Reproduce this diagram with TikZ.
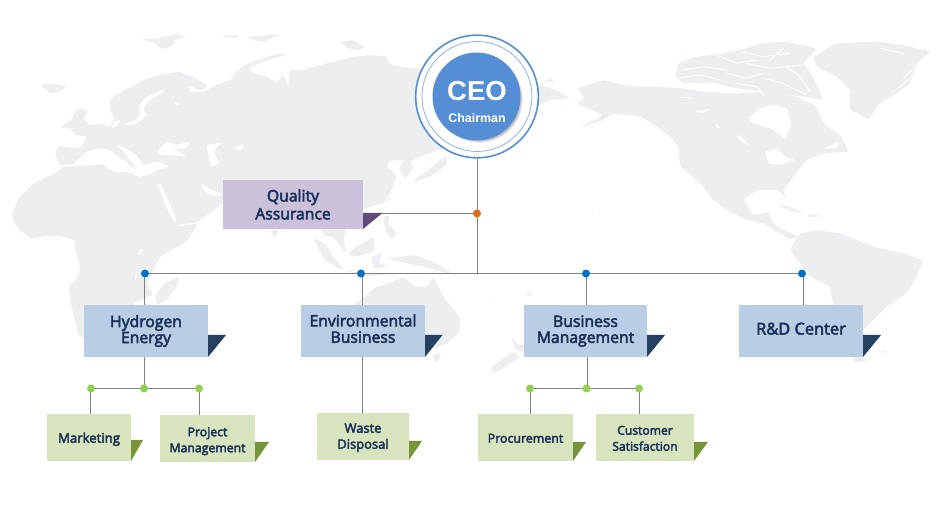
\documentclass[tikz,border=0pt]{standalone}
\usepackage{fontspec}
\newfontfamily\labelfont{Open Sans}[FakeBold=3.2]
\newfontfamily\arialfont{Liberation Sans}
\usetikzlibrary{shadows,fadings}
\definecolor{mapgrey}{HTML}{EDEEF0}
\definecolor{linegrey}{HTML}{808080}
\definecolor{ceoblue}{HTML}{558ED5}
\definecolor{ringblue}{HTML}{8DB3E2}
\definecolor{boxblue}{HTML}{B9CDE5}
\definecolor{flagblue}{HTML}{254061}
\definecolor{boxpurple}{HTML}{CCC1DA}
\definecolor{flagpurple}{HTML}{604A7B}
\definecolor{boxgreen}{HTML}{D7E4BD}
\definecolor{flaggreen}{HTML}{77933C}
\definecolor{dotorange}{HTML}{E46C0A}
\definecolor{dotblue}{HTML}{0070C0}
\definecolor{dotgreen}{HTML}{92D050}
\definecolor{labelnavy}{HTML}{1B3157}
\pgfdeclarelayer{maplayer}
\pgfdeclarelayer{linelayer}
\pgfsetlayers{maplayer,linelayer,main}
\newcommand{\smallsize}[1]{\labelfont\fontsize{#1}{12}\selectfont}
\newcommand{\lifted}[2]{\raisebox{#1}[\height][\depth]{\begin{tabular}{@{}c@{}}#2\end{tabular}}}
\tikzset{
  land/.style={fill=mapgrey,draw=none,rounded corners=1.2pt},
  sea/.style={fill=white,draw=none,rounded corners=1pt},
  channel/.style={draw=white,line width=0.7pt,line cap=round},
  conn/.style={draw=linegrey,line width=0.75pt},
  dotnode/.style={circle,inner sep=0pt,minimum size=6pt},
  midbox/.style={fill=boxblue,text=labelnavy,inner sep=0pt,align=center,minimum height=39pt,font=\labelfont\fontsize{11.8}{12}\selectfont},
  smallbox/.style={fill=boxgreen,text=labelnavy,inner sep=0pt,align=center,minimum height=35.25pt},
  flagblue/.style={fill=flagblue,draw=none},
  flaggreen/.style={fill=flaggreen,draw=none}
}
\begin{document}
\begin{tikzpicture}[x=0.75pt,y=-0.75pt]
\useasboundingbox (0,0) rectangle (946,505);
\begin{pgfonlayer}{maplayer}
\begin{scope}[shift={(0,20)},x=0.25pt,y=-0.25pt]
% Eurasia
\fill[land] (330,240)--(345,225)--(385,205)--(430,180)--(480,165)--(535,155)--(590,175)--(625,200)--(600,212)--(570,195)--(565,215)--(610,215)--(650,195)--(700,175)--(705,155)--(745,130)--(800,110)--(855,98)--(850,108)--(790,125)--(745,145)--(760,160)--(800,170)--(830,188)--(850,165)--(865,195)--(870,150)--(910,150)--(940,140)--(1000,125)--(1060,110)--(1110,105)--(1160,110)--(1172,135)--(1240,145)--(1300,150)--(1400,150)--(1500,170)--(1620,195)--(1680,215)--(1710,235)--(1650,240)--(1600,262)--(1500,280)--(1450,330)--(1400,360)--(1300,395)--(1260,410)--(1230,425)--(1240,445)--(1215,478)--(1195,445)--(1215,420)--(1170,422)--(1160,440)--(1190,465)--(1180,500)--(1150,550)--(1095,565)--(1060,600)--(1000,610)--(800,610)--(669,550)--(640,572)--(590,608)--(530,615)--(505,570)--(475,490)--(470,450)--(510,440)--(470,425)--(430,435)--(410,405)--(350,372)--(390,420)--(410,450)--(370,420)--(330,390)--(290,385)--(260,395)--(215,435)--(180,435)--(165,405)--(175,378)--(240,385)--(262,350)--(225,345)--(210,325)--(250,315)--(300,312)--(330,322)--(345,298)--(330,270)--cycle;
\fill[land] (960,620)--(1040,620)--(1030,660)--(1042,700)--(1020,680)--(1000,650)--(975,650)--cycle;
% Africa
\fill[land] (478,452)--(420,472)--(380,455)--(340,455)--(310,432)--(250,437)--(190,440)--(165,460)--(100,490)--(55,535)--(35,590)--(50,620)--(90,655)--(140,648)--(190,650)--(225,660)--(225,690)--(240,740)--(235,770)--(205,800)--(215,860)--(235,945)--(260,960)--(400,960)--(430,900)--(400,850)--(460,825)--(440,790)--(480,710)--(560,665)--(595,610)--(535,620)--(505,575)--(480,500)--cycle;
\fill[land] (540,770)--(530,800)--(500,840)--(470,855)--(465,830)--(490,790)--cycle;
% Australia and islands
\fill[land] (1060,855)--(1095,830)--(1130,800)--(1180,785)--(1210,770)--(1245,800)--(1285,800)--(1300,770)--(1330,830)--(1382,895)--(1375,940)--(1335,975)--(1275,990)--(1100,990)--cycle;
\fill[land] (1295,1005)--(1325,1000)--(1310,1030)--cycle;
\fill[land] (180,322)--(215,300)--(230,265)--(265,270)--(250,300)--(270,310)--(255,325)--(215,325)--cycle;
\fill[land] (120,195)--(160,190)--(200,200)--(180,215)--(150,220)--cycle;
\fill[land] (425,58)--(470,55)--(530,42)--(560,50)--(520,60)--(525,75)--(490,88)--(465,70)--cycle;
\fill[land] (660,48)--(720,45)--(710,55)--cycle;
\fill[land] (740,50)--(845,42)--(790,65)--(760,60)--cycle;
\fill[land] (1020,65)--(1060,60)--(1095,80)--(1080,92)--(1045,85)--cycle;
\fill[land] (1232,488)--(1285,450)--(1320,420)--(1340,405)--(1340,435)--(1290,470)--cycle;
\fill[land] (1155,545)--(1170,528)--(1172,540)--cycle;
\fill[land] (1150,590)--(1170,585)--(1165,610)--(1190,640)--(1175,660)--(1155,630)--cycle;
\fill[land] (810,630)--(838,630)--(825,655)--cycle;
\fill[land] (940,655)--(975,670)--(1000,710)--(1035,750)--(1015,745)--(970,715)--cycle;
\fill[land] (1030,752)--(1100,758)--(1185,762)--(1100,768)--cycle;
\fill[land] (1045,695)--(1120,650)--(1125,690)--(1080,708)--(1050,708)--cycle;
\fill[land] (1115,710)--(1150,695)--(1135,730)--(1165,740)--(1120,745)--cycle;
\fill[land] (1160,715)--(1240,705)--(1300,725)--(1370,768)--(1290,745)--(1220,730)--cycle;
% seas
\fill[sea] (470,395)--(500,365)--(530,375)--(570,365)--(560,385)--(520,385)--(560,410)--(510,405)--(480,405)--cycle;
\fill[sea] (620,375)--(665,368)--(640,395)--(660,430)--(630,440)--(625,400)--cycle;
\fill[sea] (705,385)--(730,372)--(730,385)--(715,392)--cycle;
\fill[sea] (472,490)--(482,490)--(512,560)--(532,608)--(522,604)--(497,555)--cycle;
\fill[sea] (600,488)--(625,505)--(660,520)--(665,530)--(630,525)--(610,510)--cycle;
\fill[sea] (372,312)--(402,302)--(420,288)--(416,260)--(432,236)--(490,207)--(495,212)--(442,245)--(430,268)--(440,286)--(404,315)--cycle;
\fill[sea] (332,322)--(350,300)--(362,300)--(347,322)--cycle;
\fill[sea] (520,245)--(540,250)--(530,258)--cycle;
\fill[sea] (412,700)--(430,685)--(430,695)--(418,708)--cycle;
\fill[sea] (403,778)--(412,755)--(415,760)--(408,780)--cycle;
\end{scope}
\begin{scope}[shift={(470,20)},x=0.25pt,y=-0.25pt]
\fill[land] (220,182)--(240,176)--(256,183)--(235,187)--cycle;
% Greenland
\fill[land] (1030,110)--(1100,70)--(1220,65)--(1300,75)--(1382,95)--(1340,130)--(1320,190)--(1280,220)--(1230,250)--(1195,298)--(1140,270)--(1140,210)--(1100,170)--(1040,140)--cycle;
% North America
\fill[land] (320,205)--(400,180)--(480,198)--(560,200)--(640,205)--(700,215)--(760,218)--(830,218)--(900,215)--(980,230)--(1040,260)--(1060,310)--(1115,350)--(1135,395)--(1060,400)--(1010,420)--(970,470)--(940,510)--(950,540)--(925,510)--(860,510)--(820,540)--(850,585)--(900,575)--(900,590)--(920,620)--(985,650)--(960,658)--(880,610)--(830,600)--(770,570)--(730,540)--(690,490)--(630,440)--(625,380)--(600,350)--(540,305)--(510,290)--(430,280)--(400,300)--(325,325)--(400,285)--(340,260)--(320,250)--(345,235)--cycle;
% Arctic archipelago
\fill[land] (625,130)--(680,110)--(760,100)--(830,85)--(870,70)--(950,65)--(1040,85)--(1000,130)--(1030,170)--(1060,240)--(1000,230)--(880,215)--(800,205)--(730,188)--(640,190)--(615,170)--cycle;
\draw[channel] (640,150)--(700,140)--(770,150);
\draw[channel] (620,175)--(690,165)--(750,180);
\draw[channel] (740,105)--(800,130)--(860,120);
\draw[channel] (810,95)--(880,110)--(960,100);
\draw[channel] (770,160)--(830,175)--(880,160);
\draw[channel] (830,130)--(900,145)--(1000,135);
\draw[channel] (800,190)--(860,200)--(880,225);
\draw[channel] (880,175)--(940,190)--(1010,225);
\draw[channel] (900,120)--(940,85);
\draw[channel] (950,140)--(990,170)--(1020,215);
\draw[channel] (630,232)--(670,235);
\draw[channel] (1330,145)--(1300,175);
\draw[channel] (1320,175)--(1285,205);
\draw[channel] (1230,85)--(1300,100);
% South America
\fill[land] (960,690)--(990,640)--(1040,630)--(1110,640)--(1210,680)--(1300,700)--(1360,720)--(1340,770)--(1310,820)--(1250,860)--(1215,895)--(1170,940)--(1120,940)--(1090,860)--(1080,800)--(1020,770)--cycle;
\fill[land] (1150,1012)--(1170,1005)--(1195,1022)--(1150,1028)--cycle;
\fill[land] (1228,995)--(1252,990)--(1250,1000)--cycle;
% Caribbean, Pacific, New Zealand
\fill[land] (920,555)--(960,560)--(1005,580)--(960,572)--cycle;
\fill[land] (1010,582)--(1060,588)--(1020,592)--cycle;
\fill[land] (382,570)--(392,568)--(392,575)--cycle;
\fill[land] (168,825)--(185,813)--(188,820)--(175,830)--cycle;
\fill[land] (65,842)--(72,840)--(80,852)--cycle;
\fill[land] (60,1045)--(100,1015)--(130,995)--(150,1010)--(100,1045)--(75,1058)--cycle;
\fill[land] (125,950)--(145,975)--(165,975)--(160,1000)--(135,985)--cycle;
% waters
\fill[sea] (835,295)--(870,265)--(915,255)--(950,265)--(965,310)--(945,360)--(930,340)--(900,325)--(850,310)--cycle;
\fill[sea] (885,395)--(920,385)--(945,410)--(975,420)--(930,435)--(895,430)--cycle;
\fill[sea] (695,495)--(730,545)--(725,550)--(695,510)--cycle;
\fill[sea] (675,275)--(725,265)--(700,280)--cycle;
\fill[sea] (795,345)--(815,350)--(840,380)--(815,365)--cycle;
\fill[sea] (735,310)--(755,325)--(740,325)--cycle;
\fill[sea] (1060,385)--(1110,365)--(1100,385)--cycle;
\end{scope}
\end{pgfonlayer}

% CEO
\node[circle,fill=white,draw=ceoblue,line width=1.2pt,minimum size=92pt,inner sep=0pt] (ceoring) at (477,96.5) {};
\node[circle,draw=ringblue,line width=0.6pt,minimum size=82.5pt,inner sep=0pt] (ceoinner) at (477,96.5) {};
\node[circle,fill=ceoblue,minimum size=66pt,inner sep=0pt,circular drop shadow={shadow xshift=1.8pt,shadow yshift=-1.8pt,shadow scale=1.0,opacity=0.75,fill=black!70}] (ceo) at (476.5,96.5) {};
\node[text=white,font=\arialfont\bfseries\fontsize{20.6}{22}\selectfont,inner sep=0pt] (ceotext) at (477,91) {CEO};
\node[text=white,font=\arialfont\bfseries\fontsize{9.3}{11}\selectfont,inner sep=0pt] (ceosub) at (477,118) {Chairman};

% Quality assurance
\fill[fill=flagpurple] (363,213) -- (382.5,213) -- (363,229) -- cycle;
\node[fill=boxpurple,text=labelnavy,inner sep=0pt,align=center,minimum width=105pt,minimum height=36.75pt,font=\labelfont\fontsize{11.8}{13.5}\selectfont] (qa) at (293,204.5) {Quality\\Assurance};

% Mid boxes
\fill[flagblue] (208,335) -- (226,335) -- (208,357) -- cycle;
\fill[flagblue] (425,335) -- (442.5,335) -- (425,357) -- cycle;
\fill[flagblue] (647,335) -- (665,335) -- (647,357) -- cycle;
\fill[flagblue] (863,335) -- (881,335) -- (863,357) -- cycle;
\node[midbox,minimum width=93pt] (hyd) at (146,331) {Hydrogen\\Energy};
\node[midbox,minimum width=93pt] (env) at (363,331) {\lifted{0pt}{Environmental\\Business}};
\node[midbox,minimum width=92.25pt] (bus) at (585.5,331) {Business\\Management};
\node[midbox,minimum width=93pt,font=\labelfont\fontsize{12.3}{12}\selectfont] (rnd) at (801,331) {\lifted{0pt}{R\&D Center}};

% Small boxes
\fill[flaggreen] (131,440) -- (143,440) -- (131,461) -- cycle;
\fill[flaggreen] (255,442) -- (269,442) -- (255,462) -- cycle;
\fill[flaggreen] (409,441) -- (422,441) -- (409,460) -- cycle;
\fill[flaggreen] (573,442) -- (586,442) -- (573,461) -- cycle;
\fill[flaggreen] (694,442) -- (708,442) -- (694,461) -- cycle;
\node[smallbox,minimum width=63pt,font=\smallsize{9.9}] (mkt) at (89,437.5) {\lifted{-1.5pt}{Marketing}};
\node[smallbox,minimum width=71.25pt,font=\smallsize{9.2}] (prj) at (207.5,438.5) {\lifted{-1.9pt}{Project\\Management}};
\node[smallbox,minimum width=69pt,font=\smallsize{9.7}] (wst) at (363,436.5) {\lifted{-0.75pt}{Waste\\Disposal}};
\node[smallbox,minimum width=71.25pt,font=\smallsize{9.3}] (prc) at (525.5,437.5) {\lifted{-1.5pt}{Procurement}};
\node[smallbox,minimum width=73.5pt,font=\smallsize{9.1}] (cst) at (645,437.5) {\lifted{-1.5pt}{Customer\\Satisfaction}};

% Dots
\node[dotnode,fill=dotorange] (jq) at (477,213.5) {};
\node[dotnode,fill=dotblue] (j1) at (145,273.5) {};
\node[dotnode,fill=dotblue] (j2) at (361,273.5) {};
\node[dotnode,fill=dotblue] (j3) at (586,273.5) {};
\node[dotnode,fill=dotblue] (j4) at (802,273.5) {};
\node[dotnode,fill=dotgreen] (g1) at (91,388.5) {};
\node[dotnode,fill=dotgreen] (g2) at (144,388.5) {};
\node[dotnode,fill=dotgreen] (g3) at (199,388.5) {};
\node[dotnode,fill=dotgreen] (g4) at (530,388.5) {};
\node[dotnode,fill=dotgreen] (g5) at (586.5,388.5) {};
\node[dotnode,fill=dotgreen] (g6) at (639,388.5) {};

\begin{pgfonlayer}{linelayer}
\draw[conn] ([xshift=0.4pt]ceoring.south) -- ([xshift=0.4pt]ceoring.south |- j1.center);
\draw[conn] (qa.east |- jq.center) -- (jq.center);
\draw[conn] (j1.center) -- (j4.center);
\draw[conn] ([xshift=-0.4pt]j1.center) -- ([xshift=-0.4pt]j1.center |- hyd.north);
\draw[conn] ([xshift=1.1pt]j2.center) -- ([xshift=1.1pt]j2.center |- env.north);
\draw[conn] ([xshift=0.4pt]j3.center) -- ([xshift=0.4pt]j3.center |- bus.north);
\draw[conn] ([xshift=1.1pt]j4.center) -- ([xshift=1.1pt]j4.center |- rnd.north);
\draw[conn] ([xshift=0.4pt]g2.center |- hyd.south) -- ([xshift=0.4pt]g2.center);
\draw[conn] (g1.center) -- (g3.center);
\draw[conn] ([xshift=-0.4pt]g1.center) -- ([xshift=-0.4pt]g1.center |- mkt.north);
\draw[conn] ([xshift=0.4pt]g3.center) -- ([xshift=0.4pt]g3.center |- prj.north);
\draw[conn] ([xshift=1.1pt]j2.center |- env.south) -- ([xshift=1.1pt]j2.center |- wst.north);
\draw[conn] ([xshift=0.75pt]g5.center |- bus.south) -- ([xshift=0.75pt]g5.center);
\draw[conn] (g4.center) -- (g6.center);
\draw[conn] ([xshift=0.4pt]g4.center) -- ([xshift=0.4pt]g4.center |- prc.north);
\draw[conn] ([xshift=0.4pt]g6.center) -- ([xshift=0.4pt]g6.center |- cst.north);
\end{pgfonlayer}
\end{tikzpicture}
\end{document}
